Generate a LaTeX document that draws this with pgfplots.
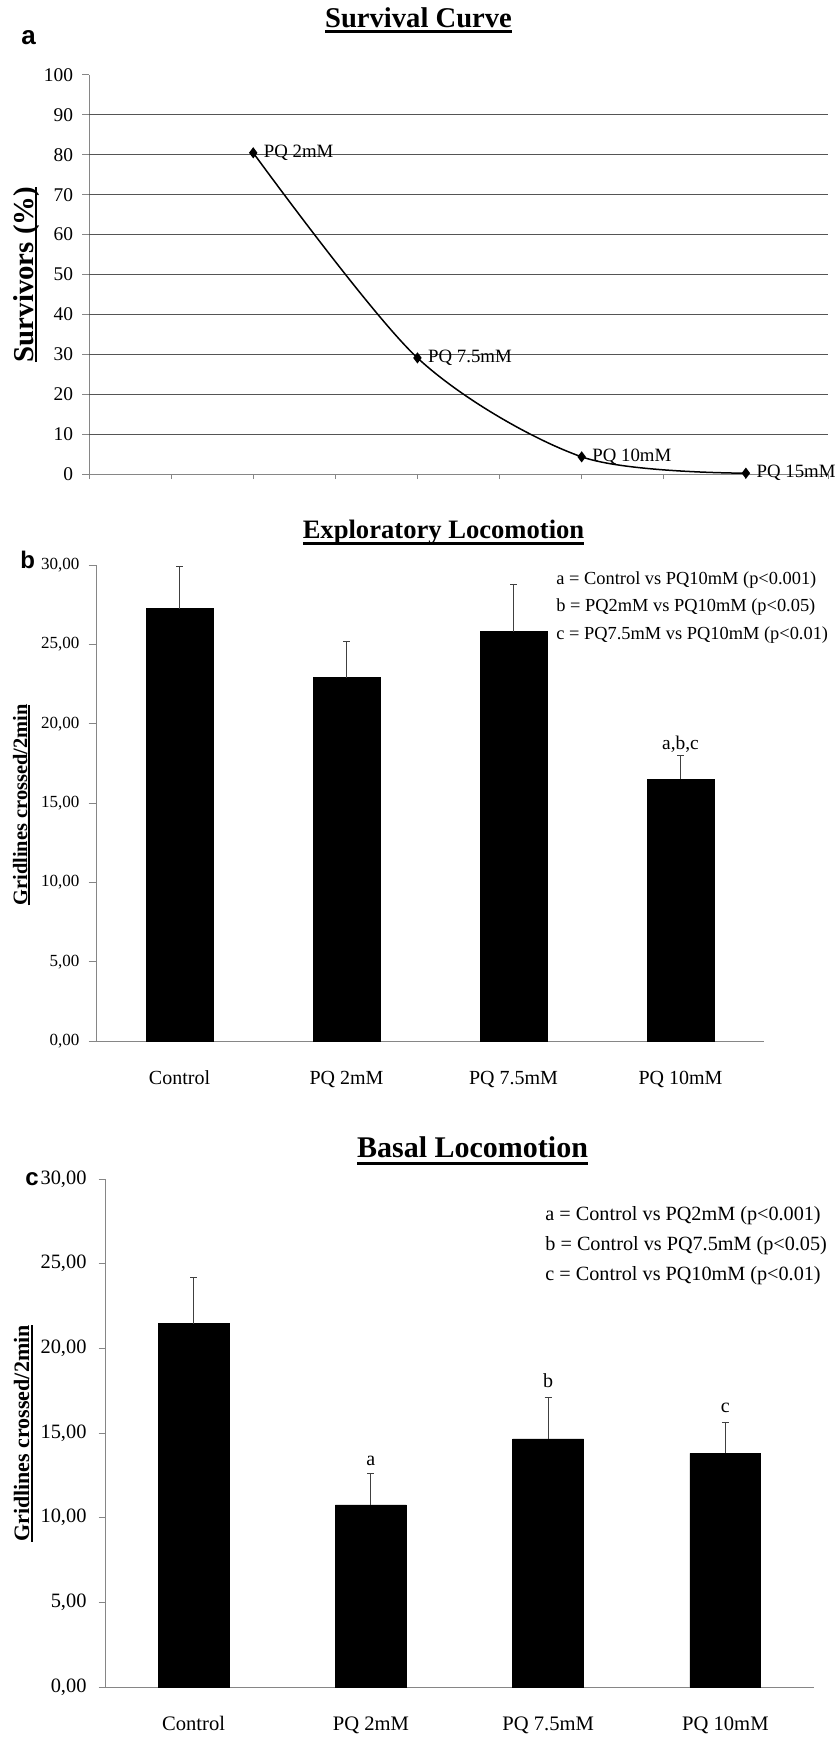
\documentclass[border=0pt]{standalone}
\usepackage{pgfplots}
\pgfplotsset{compat=1.18}
\usepackage{fontspec}
\setmainfont{Liberation Serif}
\newfontfamily\arialf{Liberation Sans}
\newsavebox\ulbox
\newcommand\ulx[3]{\sbox\ulbox{#3}\rlap{\rule[-#1]{\wd\ulbox}{#2}}\usebox\ulbox}
\newcommand\fs[1]{\fontsize{#1}{#1}\selectfont}
\definecolor{axgray}{HTML}{868686}
\definecolor{grgray}{HTML}{555555}
\definecolor{errgray}{HTML}{404040}

\pgfplotstableread{
x y e
0 27.24 2.66
1 22.90 2.25
2 25.80 3.00
3 16.50 1.50
}\tabB
\pgfplotstableread{
x y e
0 21.45 2.75
1 10.75 1.85
2 14.65 2.45
3 13.80 1.85
}\tabC

\pgfplotsset{
  common/.style={
    scale only axis, anchor=south west, clip=false,
    axis lines=left,
    axis line style={axgray, line width=0.5pt, -},
    tick align=outside,
    /pgf/number format/assume math mode=true,
  },
  barax/.style={
    xmin=-0.5, xmax=3.5, ymin=0, ymax=30,
    xtick={0,1,2,3},
    xticklabels={Control, PQ 2mM, PQ 7.5mM, PQ 10mM},
    xtick style={/pgfplots/major tick length=0pt, draw=none},
    minor xtick={-0.5,0.5,1.5,2.5,3.5},
    minor tick length=4pt,
    minor x tick style={axgray, line width=0.5pt},
    ytick={0,5,...,30},
    yticklabel={\pgfmathprintnumber[fixed,fixed zerofill,precision=2,use comma]{\tick}},
    bar width=0.4,
  },
}

\begin{document}
\begin{tikzpicture}[x=1pt,y=1pt]
\useasboundingbox (0,0) rectangle (419,-869.5);

% ---------------- Panel a ----------------
\begin{axis}[common,
  at={(44.5pt,-237pt)},
  width=369.5pt, height=199.5pt,
  xmin=0, xmax=9, ymin=0, ymax=100,
  xtick={0,...,9}, xticklabels={},
  xtick style={/pgfplots/major tick length=2.5pt, axgray, line width=0.5pt},
  ytick={0,10,...,100},
  ytick style={/pgfplots/major tick length=3.5pt, axgray, line width=0.5pt},
  yticklabel style={font=\fs{9.7}, anchor=east, inner sep=0pt, xshift=-3.5pt},
  extra y ticks={10,20,...,90},
  extra y tick labels={},
  extra y tick style={grid=major, /pgfplots/major tick length=0pt},
  major grid style={grgray, line width=0.6pt},
]
\addplot[black, line width=0.75pt, smooth, mark=diamond*, mark size=2.2pt,
  mark options={fill=black, solid},
  nodes near coords, point meta=explicit symbolic,
  nodes near coords align={horizontal},
  every node near coord/.append style={anchor=west, inner sep=0pt, xshift=5pt, font=\fs{9.4}, black}]
  coordinates {(2,80.5) [PQ 2mM] (4,29.1) [PQ 7.5mM] (6,4.3) [PQ 10mM] (8,0.2) [PQ 15mM]};
\end{axis}

% ---------------- Panel b ----------------
\begin{axis}[common, barax,
  at={(48pt,-520.5pt)},
  width=334pt, height=238pt,
  ytick style={/pgfplots/major tick length=3.7pt, axgray, line width=0.5pt},
  yticklabel style={font=\fs{8.5}, anchor=east, inner sep=0pt, xshift=-3.8pt},
  xticklabel style={font=\fs{10}, anchor=base, inner sep=0pt, yshift=-17.5pt},
]
\addplot[ybar, fill=black, draw=black, bar shift=0pt,
  error bars/.cd, y dir=plus, y explicit,
  error bar style={errgray, line width=0.5pt},
  error mark options={rotate=90, errgray, mark size=1.6pt, line width=0.5pt}]
  table[x=x, y=y, y error=e] {\tabB};
\node[font=\fs{9.7}, anchor=base, yshift=3pt] at (axis cs:3,18.0) {a,b,c};
\end{axis}

% ---------------- Panel c ----------------
\begin{axis}[common, barax,
  at={(52.5pt,-843.5pt)},
  width=354.5pt, height=254pt,
  ytick style={/pgfplots/major tick length=3.2pt, axgray, line width=0.5pt},
  yticklabel style={font=\fs{10.2}, anchor=east, inner sep=0pt, xshift=-4.8pt},
  xticklabel style={font=\fs{10.3}, anchor=base, inner sep=0pt, yshift=-17.5pt},
]
\addplot[ybar, fill=black, draw=black, bar shift=0pt,
  error bars/.cd, y dir=plus, y explicit,
  error bar style={errgray, line width=0.5pt},
  error mark options={rotate=90, errgray, mark size=1.7pt, line width=0.5pt}]
  table[x=x, y=y, y error=e] {\tabC};
\node[font=\fs{10}, anchor=base, yshift=4pt] at (axis cs:1,12.6) {a};
\node[font=\fs{10}, anchor=base, yshift=5pt] at (axis cs:2,17.1) {b};
\node[font=\fs{10}, anchor=base, yshift=5pt] at (axis cs:3,15.65) {c};
\end{axis}

% ---------------- Titles, labels, notes ----------------
\node[anchor=base, inner sep=0pt, font=\bfseries\fs{14.3}] at (209.25,-13.75) {\ulx{2.75pt}{1.5pt}{Survival Curve}};
\node[anchor=base, inner sep=0pt, font=\bfseries\fs{13.3}] at (221.75,-269) {\ulx{3.25pt}{1.5pt}{Exploratory Locomotion}};
\node[anchor=base, inner sep=0pt, font=\bfseries\fs{15}] at (236.25,-578.5) {\ulx{3.75pt}{1.5pt}{Basal Locomotion}};

\node[anchor=base west, inner sep=0pt, font=\arialf\bfseries\fs{13}] at (10.5,-22.5) {a};
\node[anchor=base west, inner sep=0pt, font=\arialf\bfseries\fs{12}] at (10,-284) {b};
\node[anchor=base west, inner sep=0pt, font=\arialf\bfseries\fs{12}] at (12.5,-592.5) {c};

\node[anchor=base, rotate=90, inner sep=0pt, font=\bfseries\fs{14.4}] at (16.5,-137.25) {\ulx{2.1pt}{1.15pt}{Survivors (\%)}};
\node[anchor=base, rotate=90, inner sep=0pt, font=\bfseries\fs{10.2}] at (13.5,-402.5) {\ulx{1.5pt}{1pt}{Gridlines crossed/2min}};
\node[anchor=base, rotate=90, inner sep=0pt, font=\bfseries\fs{11}] at (14.5,-716.75) {\ulx{2pt}{1pt}{Gridlines crossed/2min}};

\begin{scope}[every node/.style={anchor=base west, inner sep=0pt, font=\fs{9.2}}]
\node at (278,-292) {a = Control vs PQ10mM (p<0.001)};
\node at (278,-305.5) {b = PQ2mM vs PQ10mM (p<0.05)};
\node at (278,-319.5) {c = PQ7.5mM vs PQ10mM (p<0.01)};
\end{scope}
\begin{scope}[every node/.style={anchor=base west, inner sep=0pt, font=\fs{10.1}}]
\node at (272.5,-610) {a = Control vs PQ2mM (p<0.001)};
\node at (272.5,-625) {b = Control vs PQ7.5mM (p<0.05)};
\node at (272.5,-640) {c = Control vs PQ10mM (p<0.01)};
\end{scope}
\end{tikzpicture}
\end{document}
